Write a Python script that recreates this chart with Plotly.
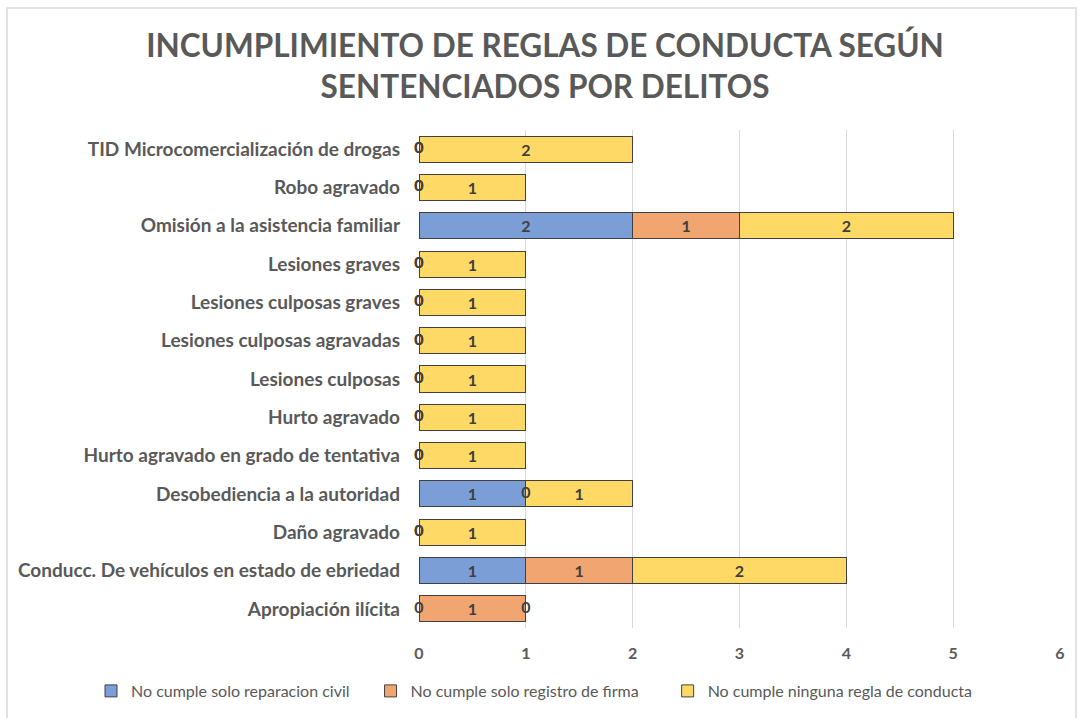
import plotly.graph_objects as go

# categories listed bottom to top, as on the chart
delitos = [
    "Apropiación ilícita",
    "Conducc. De vehículos en estado de ebriedad",
    "Daño agravado",
    "Desobediencia a la autoridad",
    "Hurto agravado en grado de tentativa",
    "Hurto agravado",
    "Lesiones culposas",
    "Lesiones culposas agravadas",
    "Lesiones culposas graves",
    "Lesiones graves",
    "Omisión a la asistencia familiar",
    "Robo agravado",
    "TID Microcomercialización de drogas",
]
reparacion_civil = [0, 1, 0, 1, 0, 0, 0, 0, 0, 0, 2, 0, 0]
registro_firma = [1, 1, 0, 0, 0, 0, 0, 0, 0, 0, 1, 0, 0]
ninguna_regla = [0, 2, 1, 1, 1, 1, 1, 1, 1, 1, 2, 1, 2]

series_names = [
    "No cumple solo reparacion civil",
    "No cumple solo registro de firma",
    "No cumple ninguna regla de conducta",
]
series_colors = ["#7C9ED7", "#F1A672", "#FFD966"]
# trailing en spaces widen the legend entries to Excel's spacing
legend_pad = ["\u2002\u2002", "\u2002\u2002\u2002", ""]

FONT = "Lato, Carlito, 'Open Sans', sans-serif"
LABEL_COLOR = "#404040"
L, R, T, B = 419, 23, 130, 90
PLOT_W, PLOT_H = 1083 - L - R, 718 - T - B

fig = go.Figure()
base = [0] * len(delitos)
zero_x, zero_y = [], []
for name, vals, color, pad in zip(
    series_names, [reparacion_civil, registro_firma, ninguna_regla], series_colors, legend_pad
):
    fig.add_trace(
        go.Bar(
            y=delitos,
            x=vals,
            name=name + pad,
            orientation="h",
            marker=dict(color=color, line=dict(color="#404040", width=1)),
            text=[str(v) if v else "" for v in vals],
            textposition="inside",
            insidetextanchor="middle",
            textfont=dict(family=FONT, size=16, color=LABEL_COLOR, weight="bold"),
            hovertemplate="%{y}: %{x}<extra>" + name + "</extra>",
        )
    )
    # Excel still shows a "0" label where a segment has zero width
    for i, v in enumerate(vals):
        if v == 0:
            zero_x.append(base[i])
            zero_y.append(delitos[i])
        base[i] += v

fig.add_trace(
    go.Scatter(
        x=zero_x,
        y=zero_y,
        mode="text",
        text=["0"] * len(zero_x),
        textposition="middle center",
        textfont=dict(family=FONT, size=16, color=LABEL_COLOR, weight="bold"),
        showlegend=False,
        hoverinfo="skip",
        cliponaxis=False,
    )
)

fig.update_layout(
    barmode="stack",
    bargap=0.32,
    width=1083,
    height=718,
    paper_bgcolor="white",
    plot_bgcolor="white",
    margin=dict(l=L, r=R, t=T, b=B, autoexpand=False),
    font=dict(family=FONT, color="#595959"),
    title=dict(
        text="INCUMPLIMIENTO DE REGLAS DE CONDUCTA SEGÚN<br>SENTENCIADOS POR DELITOS",
        x=545 / 1083,
        xanchor="center",
        xref="container",
        y=1 - 57 / 718,
        yanchor="top",
        yref="container",
        font=dict(family=FONT, size=31.5, color="#595959", weight="bold"),
    ),
    xaxis=dict(
        range=[0, 6],
        dtick=1,
        showgrid=True,
        gridcolor="#D9D9D9",
        gridwidth=1,
        zeroline=False,
        showline=False,
        automargin=False,
        tickfont=dict(family=FONT, size=16, color="#595959", weight="bold"),
        ticklabelstandoff=14,
    ),
    yaxis=dict(
        categoryorder="array",
        categoryarray=delitos,
        range=[-0.5, len(delitos) - 0.5],
        showgrid=False,
        showline=False,
        automargin=False,
        ticks="",
        ticklabelstandoff=18,
        tickfont=dict(family=FONT, size=19, color="#595959", weight="bold"),
    ),
    legend=dict(
        orientation="h",
        x=(91 - L) / PLOT_W,
        xref="paper",
        xanchor="left",
        y=(T + PLOT_H - 691) / PLOT_H,
        yref="paper",
        yanchor="middle",
        font=dict(family=FONT, size=16, color="#595959"),
        itemwidth=30,
        traceorder="normal",
    ),
    shapes=[
        dict(
            type="rect",
            xref="paper",
            yref="paper",
            x0=(7 - L) / PLOT_W,
            x1=(1076 - L) / PLOT_W,
            y0=(T + PLOT_H - 740) / PLOT_H,
            y1=(T + PLOT_H - 8) / PLOT_H,
            line=dict(color="#D9D9D9", width=1.5),
            layer="below",
        )
    ],
)

fig.write_html(
    "out.html",
    config={"displayModeBar": False},
    post_script="document.body.style.margin='0';",
)
